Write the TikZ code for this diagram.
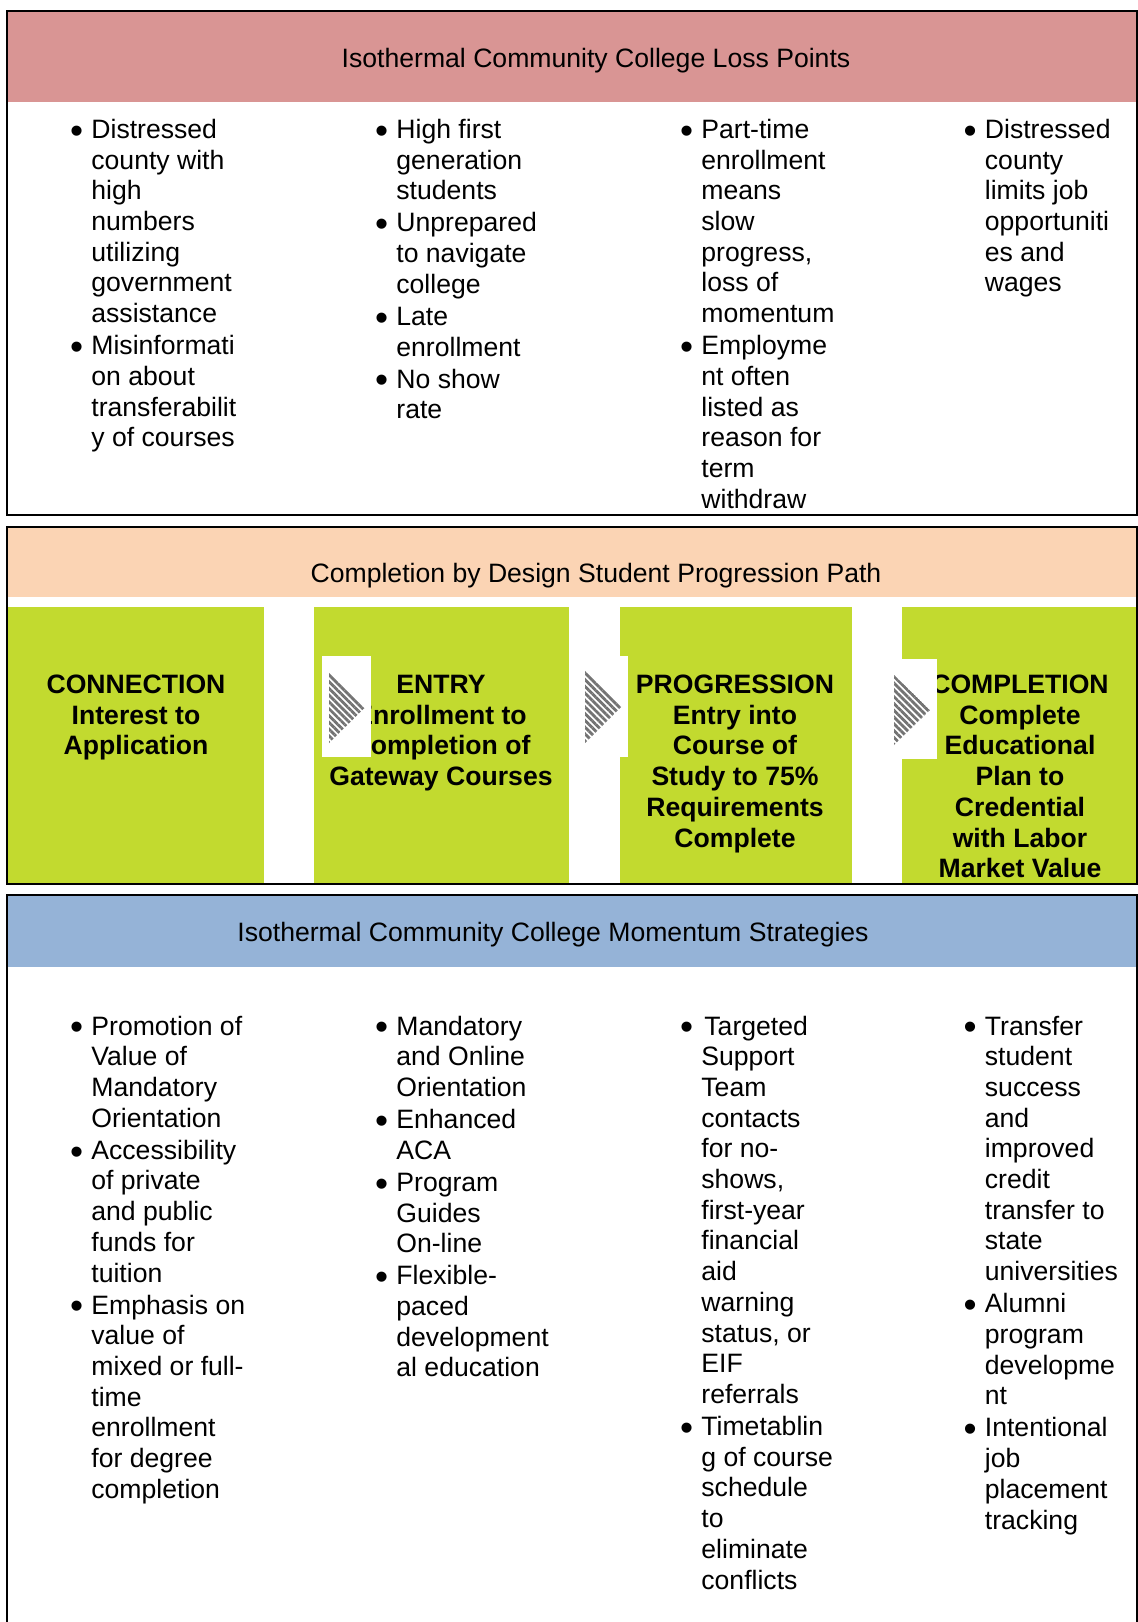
\documentclass[tikz,border=0pt]{standalone}
\usepackage{fontspec}
\setmainfont{Liberation Sans}
\usepackage{graphicx}
\usepackage{tikz}
\usetikzlibrary{patterns.meta}
\definecolor{losspink}{HTML}{D99594}
\definecolor{pathpeach}{HTML}{FBD4B4}
\definecolor{stagegreen}{HTML}{C2DA2F}
\definecolor{momblue}{HTML}{95B3D7}
\newcommand\txtsize{\fontsize{13.3}{15.35}\selectfont}
\newcommand\bul{\llap{\raisebox{-2.4pt}{\scalebox{1.4}{\textbullet}}\hspace{4.1pt}}}
\newcommand\leftlines[1]{\begin{tabular}[t]{@{}l@{}}#1\end{tabular}}
\newcommand\midlines[1]{\begin{tabular}[t]{@{}c@{}}#1\end{tabular}}
\tikzset{
	hdr/.style={anchor=base,inner sep=0pt,font=\txtsize},
	itemlist/.style={anchor=base west,inner sep=0pt,font=\txtsize},
	stage/.style={anchor=base,inner sep=0pt,font=\txtsize\bfseries},
	frame/.style={draw=black,line width=1pt},
	patch/.style={fill=white},
	chevron/.style={pattern={Lines[angle=-45,distance=2.4pt,line width=1.4pt]},pattern color=black!55}
}

\begin{document}
\begin{tikzpicture}[x=0.5pt,y=-0.5pt]
		\useasboundingbox (0,0) rectangle (1138,1622);
		
		% loss points
		\fill[losspink] (7,11) rectangle (1137,102);
		\draw[frame] (7,11) rectangle (1137,515);
		\node[hdr] (losstitle) at (596,67) {Isothermal Community College Loss Points};
		\node[itemlist] (loss1) at (91,138.3) {\leftlines{\bul Distressed\\county with\\high\\numbers\\utilizing\\government\\assistance\\[0.7pt]
			\bul Misinformati\\on about\\transferabilit\\y of courses}};
		\node[itemlist] (loss2) at (396,138.3) {\leftlines{\bul High first\\generation\\students\\[0.7pt]
			\bul Unprepared\\to navigate\\college\\[0.7pt]
			\bul Late\\enrollment\\[0.7pt]
			\bul No show\\rate}};
		\node[itemlist] (loss3) at (701,138.3) {\leftlines{\bul Part-time\\enrollment\\means\\slow\\progress,\\loss of\\momentum\\[0.7pt]
			\bul Employme\\nt often\\listed as\\reason for\\term\\withdraw}};
		\node[itemlist] (loss4) at (984.5,138.3) {\leftlines{\bul Distressed\\county\\limits job\\opportuniti\\es and\\wages}};
		
		% progression path
		\fill[pathpeach] (7,527) rectangle (1137,597);
		\fill[stagegreen] (7,607) rectangle (264,884);
		\fill[stagegreen] (314,607) rectangle (568.5,884);
		\fill[stagegreen] (620,607) rectangle (852,884);
		\fill[stagegreen] (902,607) rectangle (1137,884);
		\draw[frame] (7,527) rectangle (1137,884);
		\node[hdr] (pathtitle) at (596,582) {Completion by Design Student Progression Path};
		\node[stage] (connect) at (136,693.5) {\midlines{CONNECTION\\Interest to\\Application}};
		\node[stage] (entry) at (441,693.5) {\midlines{ENTRY\\Enrollment to\\Completion of\\Gateway Courses}};
		\node[stage] (progress) at (735,693.5) {\midlines{PROGRESSION\\Entry into\\Course of\\Study to 75\%\\Requirements\\Complete}};
		\node[stage] (complete) at (1020,693.5) {\midlines{COMPLETION\\Complete\\Educational\\Plan to\\Credential\\with Labor\\Market Value}};
		
		\fill[patch] (322,656) rectangle (371,757);
		\fill[chevron] (329,672) -- (365,707.5) -- (329,743) -- cycle; % connection -> entry
		\fill[patch] (578,656) rectangle (628,757);
		\fill[chevron] (585,670) -- (621.5,706.5) -- (585,743) -- cycle; % entry -> progression
		\fill[patch] (887,659) rectangle (937,759);
		\fill[chevron] (894,675) -- (930,710) -- (894,745) -- cycle; % progression -> completion
		
		% momentum strategies
		\fill[momblue] (7,895) rectangle (1137,967);
		\draw[frame] (7,1630) -- (7,895) -- (1137,895) -- (1137,1630);
		\node[hdr] (momtitle) at (553,941) {Isothermal Community College Momentum Strategies};
		\node[itemlist] (mom1) at (91,1035) {\leftlines{\bul Promotion of\\Value of\\Mandatory\\Orientation\\[0.7pt]
			\bul Accessibility\\of private\\and public\\funds for\\tuition\\[0.7pt]
			\bul Emphasis on\\value of\\mixed or full-\\time\\enrollment\\for degree\\completion}};
		\node[itemlist] (mom2) at (396,1035) {\leftlines{\bul Mandatory\\and Online\\Orientation\\[0.7pt]
			\bul Enhanced\\ACA\\[0.7pt]
			\bul Program\\Guides\\On-line\\[0.7pt]
			\bul Flexible-\\paced\\development\\al education}};
		\node[itemlist] (mom3) at (701,1035) {\leftlines{\bul\hspace{1.5pt}Targeted\\Support\\Team\\contacts\\for no-\\shows,\\first-year\\financial\\aid\\warning\\status, or\\EIF\\referrals\\[0.7pt]
			\bul Timetablin\\g of course\\schedule\\to\\eliminate\\conflicts}};
		\node[itemlist] (mom4) at (984.5,1035) {\leftlines{\bul Transfer\\student\\success\\and\\improved\\credit\\transfer to\\state\\universities\\[0.7pt]
			\bul Alumni\\program\\developme\\nt\\[0.7pt]
			\bul Intentional\\job\\placement\\tracking}};
	\end{tikzpicture}
\end{document}
